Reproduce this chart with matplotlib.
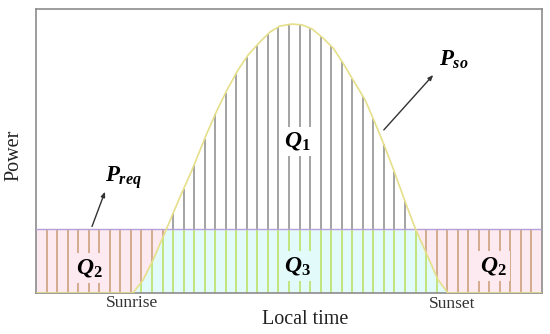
import numpy as np
import matplotlib
matplotlib.use('Agg')
import matplotlib.pyplot as plt

plt.rcParams['font.family'] = ['Liberation Serif', 'DejaVu Serif']
plt.rcParams['mathtext.fontset'] = 'custom'
plt.rcParams['mathtext.it'] = 'Liberation Serif:italic:bold'
plt.rcParams['mathtext.rm'] = 'Liberation Serif:bold'
plt.rcParams['mathtext.bf'] = 'Liberation Serif:bold'

# solar power curve (hours, % of axis height)
time_h = [0.0, 4.60, 5.08, 5.55, 6.21, 6.83, 7.40, 8.11, 8.59, 9.06, 9.58,
          10.06, 10.62, 11.10, 11.57, 12.14, 12.62, 13.09, 13.61, 14.09,
          14.56, 15.04, 15.61, 16.08, 16.55, 16.93, 17.60, 18.02, 18.59,
          19.07, 19.54, 24.0]
p_so = [0.0, 0.0, 4.6, 11.6, 22.9, 33.8, 43.3, 56.3, 64.4, 71.5, 78.5,
        83.8, 88.4, 91.9, 94.0, 94.7, 94.4, 93.0, 89.8, 86.3,
        81.0, 75.0, 68.0, 59.9, 51.4, 44.0, 30.3, 22.2, 12.7,
        4.6, 0.0, 0.0]
p_req = 22.5

t = np.array(time_h)
p = np.array(p_so)

pink = '#fde9f0'
cyan = '#e2fafa'
brown = '#c89a72'
green = '#b9df5e'
gray = '#8a8a8a'

fig = plt.figure(figsize=(5.5, 3.34), dpi=100)
ax = fig.add_axes([36/550, 41/334, 506/550, 284/334])
ax.set_xlim(0, 24)
ax.set_ylim(0, 100)

# fills
ax.fill_between(t, 0, p_req, color=cyan, lw=0, zorder=1)
ax.fill_between(t, p, p_req, where=p < p_req, interpolate=True,
                color=pink, lw=0, zorder=1)

# vertical hatch lines every half hour
for x in np.arange(0.5, 24, 0.5):
    y = np.interp(x, t, p)
    ax.vlines(x, 0, min(y, p_req), color=green, lw=1.1, zorder=2)
    if y < p_req:
        ax.vlines(x, y, p_req, color=brown, lw=1.1, zorder=2)
    else:
        ax.vlines(x, p_req, y, color=gray, lw=1.1, zorder=2)

ax.axhline(p_req, color='#b7a0d8', lw=1.0, zorder=3)
ax.plot(t, p, color='#e6df8a', lw=1.2, zorder=4)

for s in ax.spines.values():
    s.set_color('#8c8c8c')
    s.set_linewidth(1.2)
ax.set_xticks([])
ax.set_yticks([])

# labels
ax.annotate('', xy=(3.32, 36.6), xytext=(2.61, 22.5),
            arrowprops=dict(arrowstyle='-|>,head_length=0.3,head_width=0.12',
                            color='#333333', lw=1.0), zorder=5)
ax.text(4.17, 40.5, r'$P_{req}$', fontsize=16.5, ha='center', va='center')
ax.annotate('', xy=(18.93, 77.5), xytext=(16.41, 56.7),
            arrowprops=dict(arrowstyle='-|>,head_length=0.3,head_width=0.12',
                            color='#333333', lw=1.0), zorder=5)
ax.text(19.83, 82.0, r'$P_{so}$', fontsize=16.5, ha='center', va='center')

box = dict(boxstyle='square,pad=0.15', lw=0)
ax.text(12.38, 53.5, r'$Q_1$', fontsize=17, ha='center', va='center',
        bbox=dict(box, fc='white'), zorder=6)
ax.text(2.51, 8.8, r'$Q_2$', fontsize=17, ha='center', va='center',
        bbox=dict(box, fc=pink), zorder=6)
ax.text(21.68, 9.5, r'$Q_2$', fontsize=17, ha='center', va='center',
        bbox=dict(box, fc=pink), zorder=6)
ax.text(12.38, 9.5, r'$Q_3$', fontsize=17, ha='center', va='center',
        bbox=dict(box, fc=cyan), zorder=6)

ax.text(4.55, -3.6, 'Sunrise', fontsize=12.5, ha='center', va='center',
        color='#333333', clip_on=False)
ax.text(19.73, -3.9, 'Sunset', fontsize=12.5, ha='center', va='center',
        color='#333333', clip_on=False)
fig.text(305/550, 1 - 320/334, 'Local time', fontsize=14.5,
         ha='center', va='center', color='#222222')
fig.text(14/550, 1 - 155/334, 'Power', fontsize=14.5, rotation=90,
         ha='center', va='center', color='#222222')

fig.savefig('out.png', dpi=100)
